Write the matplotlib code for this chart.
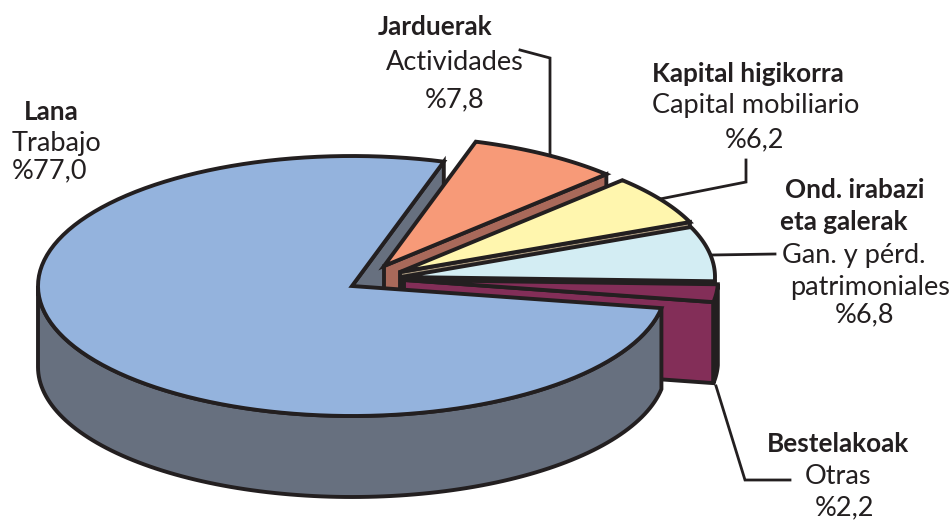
import numpy as np
import matplotlib
matplotlib.use("Agg")
import matplotlib.pyplot as plt
from matplotlib.patches import Polygon

# porcentajes, en el orden de las porciones (sentido horario desde Lana)
nombres = ['Lana', 'Jarduerak', 'Kapital higikorra', 'Ond. irabazi', 'Bestelakoak']
valores = [77.0, 7.8, 6.2, 6.8, 2.2]
colores = ['#94B3DD', '#F79A78', '#FFF6AE', '#D3EDF3', '#832E58']
colores_cara = ['#67707F', '#A9695A', '#A8987F', '#8A9DA3', '#832E58']

NEGRO = '#231F20'
RX, RY, PROF = 314, 130, 81
INICIO = 73.0
# apex de cada porcion en pixeles
centros = [(352, 286), (384, 266), (400, 272), (401, 277), (404, 280)]

plt.rcParams['font.family'] = ['Lato', 'DejaVu Sans']
fig = plt.figure(figsize=(9.49, 5.22), dpi=100)
ax = fig.add_axes([0, 0, 1, 1])
ax.set_xlim(0, 949)
ax.set_ylim(522, 0)
ax.axis('off')


def arco(c, t1, t2, dy=0):
    t = np.radians(np.linspace(t1, t2, 120))
    return np.column_stack([c[0] + RX * np.cos(t), c[1] - RY * np.sin(t) + dy])


def poligono(puntos, color, z, lw=2.8):
    ax.add_patch(Polygon(puntos, closed=True, facecolor=color, edgecolor=NEGRO,
                         linewidth=lw, joinstyle='miter', zorder=z))


def cara(c, t, color, z):
    borde = arco(c, t, t, 0)[0]
    poligono([c, borde, (borde[0], borde[1] + PROF), (c[0], c[1] + PROF)], color, z)


# angulos de cada porcion a partir de los valores
fin = INICIO
angulos = []
for i, v in enumerate(valores):
    paso = v / sum(valores) * 360
    if i == 0:
        angulos.append((INICIO, INICIO + paso))
    else:
        angulos.append((fin, fin - paso))
        fin = fin - paso

# cara interior de Lana
cara(centros[0], angulos[0][0], colores_cara[0], 1)

# porciones separadas, de atras hacia adelante
for i in range(1, 5):
    c = centros[i]
    a, b = angulos[i]
    cara(c, b, colores_cara[i], 2 + i)
    if i == 4:
        exterior = np.vstack([arco(c, a, b), arco(c, b, a, PROF)])
        poligono(exterior, NEGRO, 2 + i)
    poligono(np.vstack([[c], arco(c, a, b)]), colores[i], 2.5 + i)

# pared y tapa de Lana
c = centros[0]
a, b = angulos[0]
pared = np.vstack([arco(c, 180, b), arco(c, b, 180, PROF)])
poligono(pared, colores_cara[0], 10)
poligono(np.vstack([[c], arco(c, a, b)]), colores[0], 11)

# lineas guia
guias = [
    [(520, 50), (550, 58), (550, 155)],
    [(746, 160), (746, 182), (660, 199)],
    [(712, 255), (775, 254)],
    [(716, 386), (745, 480), (790, 480)],
]
for g in guias:
    xs, ys = zip(*g)
    ax.plot(xs, ys, color=NEGRO, lw=2.0, zorder=2, solid_joinstyle='miter')

# textos: (x, y, texto, negrita, alineacion)
textos = [
    (51, 112, 'Lana', True, 'center'),
    (12, 144, 'Trabajo', False, 'left'),
    (12, 171, '%77,0', False, 'left'),
    (435, 27, 'Jarduerak', True, 'center'),
    (455, 63, 'Actividades', False, 'center'),
    (455, 100, '%7,8', False, 'center'),
    (652, 74, 'Kapital higikorra', True, 'left'),
    (652, 106, 'Capital mobiliario', False, 'left'),
    (755, 140, '%6,2', False, 'center'),
    (785, 190, 'Ond. irabazi', True, 'left'),
    (780, 222, 'eta galerak', True, 'left'),
    (782, 256, 'Gan. y pérd.', False, 'left'),
    (790, 288, 'patrimoniales', False, 'left'),
    (835, 315, '%6,8', False, 'left'),
    (767, 444, 'Bestelakoak', True, 'left'),
    (838, 476, 'Otras', False, 'center'),
    (845, 508, '%2,2', False, 'center'),
]
for x, y, s, negrita, al in textos:
    ax.text(x, y, s, fontsize=18.8 if negrita else 19.5, color=NEGRO, ha=al, va='center',
            fontweight='bold' if negrita else 'normal', zorder=20)

fig.savefig('out.png', dpi=100)
